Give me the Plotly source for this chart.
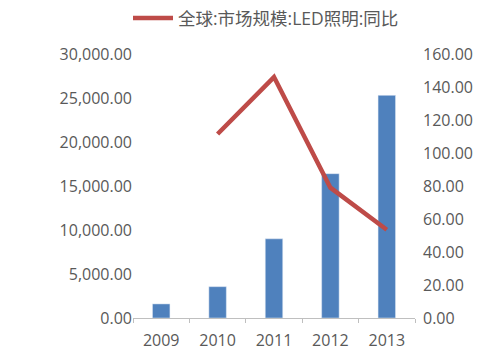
import plotly.graph_objects as go

years = ["2009", "2010", "2011", "2012", "2013"]
market_size = [1600, 3560, 9000, 16400, 25300]
line_years = ["2010", "2011", "2012", "2013"]
yoy = [111.5, 146, 79, 53.5]
left_ticks = [0, 5000, 10000, 15000, 20000, 25000, 30000]
right_ticks = [0, 20, 40, 60, 80, 100, 120, 140, 160]
legend_name = "全球:市场规模:LED照明:同比"

font_fam = "Open Sans, Noto Sans CJK SC, sans-serif"
grey = "#595959"

fig = go.Figure()
fig.add_trace(go.Bar(x=years, y=market_size, marker_color="#4F81BD",
                     showlegend=False, name="市场规模"))
fig.add_trace(go.Scatter(x=line_years, y=yoy, mode="lines", yaxis="y2",
                         line=dict(color="#BE4B48", width=4.5),
                         name=legend_name))

fig.update_layout(
    width=500, height=356,
    margin=dict(l=133, r=85, t=54, b=38, autoexpand=False),
    paper_bgcolor="white", plot_bgcolor="white",
    font=dict(family=font_fam, size=16, color=grey),
    bargap=0.69,
    showlegend=True,
    legend=dict(orientation="h", x=0.532, xanchor="center", xref="container",
                y=1 - 18 / 356, yanchor="middle", yref="container",
                font=dict(size=17.5, color=grey),
                itemwidth=40, bgcolor="rgba(0,0,0,0)"),
    xaxis=dict(type="category", categoryorder="array", categoryarray=years,
               showline=True, linecolor="#BFBFBF", linewidth=1,
               ticks="outside", tickson="boundaries", ticklen=4, tickcolor="#BFBFBF",
               tickfont=dict(size=16, color=grey), showgrid=False,
               ticklabelstandoff=8),
    yaxis=dict(range=[0, 30000], tickvals=left_ticks,
               ticktext=[f"{v:,.2f}" for v in left_ticks],
               showgrid=False, zeroline=False, showline=False,
               tickfont=dict(size=16, color=grey), ticks="", ticklabelstandoff=0),
    yaxis2=dict(range=[0, 160], tickvals=right_ticks,
                ticktext=[f"{v:.2f}" for v in right_ticks],
                overlaying="y", side="right", showgrid=False, zeroline=False,
                showline=False, tickfont=dict(size=16, color=grey), ticks="",
                ticklabelstandoff=7),
)

fig.write_html("out.html", config={"displayModeBar": False},
               post_script="document.body.style.margin='0';")
